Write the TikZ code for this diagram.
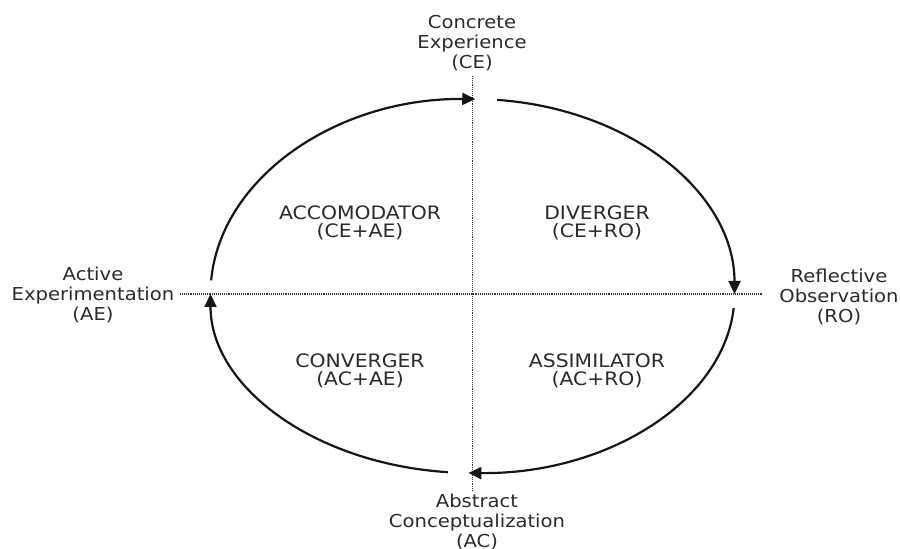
\documentclass[tikz,border=0pt]{standalone}
\usepackage{fontspec}
\setmainfont{DejaVu Sans}[FakeStretch=1.1]
\usetikzlibrary{arrows.meta}
\definecolor{txt}{HTML}{2A2A2A}
\definecolor{ln}{HTML}{151515}
\tikzset{
  outerlbl/.style={align=center, text=txt, font=\fontsize{17.8}{19.8}\selectfont, inner sep=0pt},
  innerlbl/.style={align=center, text=txt, font=\fontsize{18.5}{17.5}\selectfont, inner sep=0pt},
  axisline/.style={draw=ln!85, line width=1.2pt, dash pattern=on 1pt off 0.9pt},
  cycarc/.style={draw=ln, line width=2.2pt, -{Triangle[length=13pt,width=12pt]}},
}
\begin{document}
\begin{tikzpicture}[x=1pt,y=1pt]
\useasboundingbox (0,0) rectangle (900,549);
% axes
\coordinate (vt) at (472.5,473);
\coordinate (vb) at (472.5,57);
\coordinate (hl) at (180,255);
\coordinate (hr) at (762,255);
\draw[axisline] (vt) -- (vb);
\draw[axisline] (hl) -- (hr);
% arc start points (centre (472.5,255))
\coordinate (s1) at ({472.5+262*cos(176)},{255+195*sin(176)});
\coordinate (s2) at ({472.5+262*cos(84.6)},{255+195*sin(84.6)});
\coordinate (s3) at ({472.5+262*cos(-4.5)},{255+179*sin(-4.5)});
\coordinate (s4) at ({472.5+262*cos(-95.4)},{255+179*sin(-95.4)});
\draw[cycarc] (s1) arc[start angle=176, end angle=89.4, x radius=262pt, y radius=195pt];
\draw[cycarc] (s2) arc[start angle=84.6, end angle=0, x radius=262pt, y radius=195pt];
\draw[cycarc] (s3) arc[start angle=-4.5, end angle=-90.9, x radius=262pt, y radius=179pt];
\draw[cycarc] (s4) arc[start angle=-95.4, end angle=-180, x radius=262pt, y radius=179pt];
% outer labels
\node[outerlbl] (ce) at (472,506) {Concrete\\Experience\\(CE)};
\node[outerlbl] (ro) at (839,252) {Reflective\\Observation\\(RO)};
\node[outerlbl] (ac) at (477,27) {Abstract\\Conceptualization\\(AC)};
\node[outerlbl] (ae) at (93,254) {Active\\Experimentation\\(AE)};
% quadrant labels
\node[innerlbl] (acc) at (360,326) {ACCOMODATOR\\(CE+AE)};
\node[innerlbl] (div) at (597,326) {DIVERGER\\(CE+RO)};
\node[innerlbl] (con) at (360,178) {CONVERGER\\(AC+AE)};
\node[innerlbl] (ass) at (597,178) {ASSIMILATOR\\(AC+RO)};
\end{tikzpicture}
\end{document}
